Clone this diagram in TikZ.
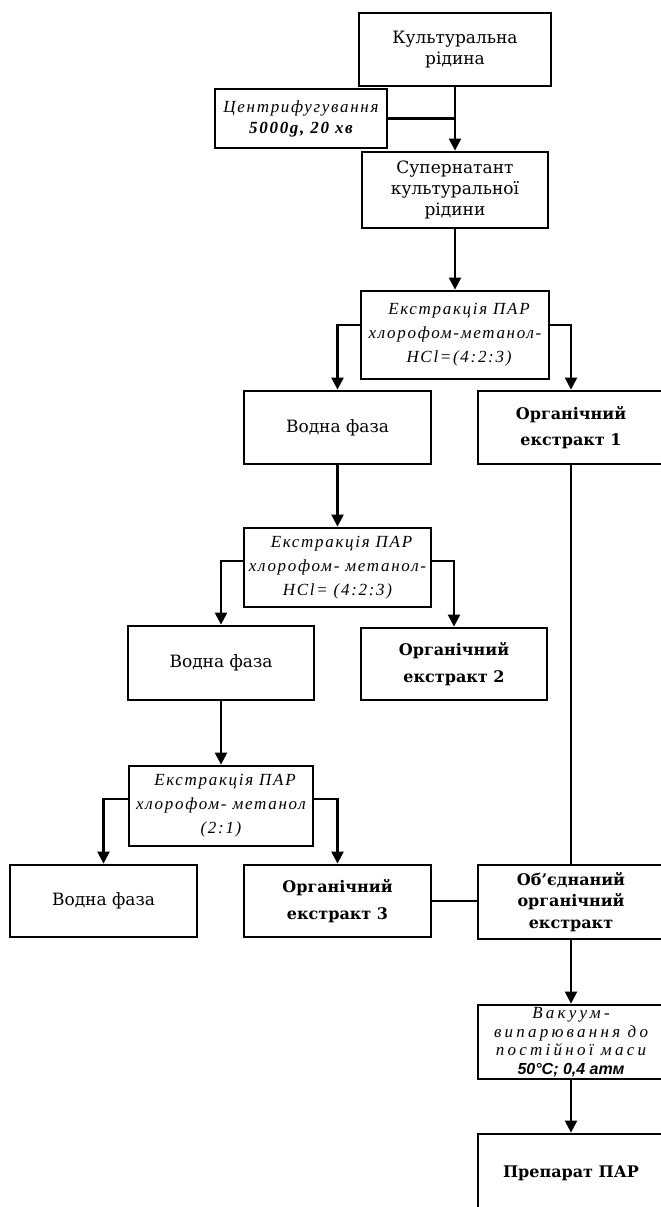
\documentclass[tikz,border=0pt]{standalone}
\usepackage{fontspec}
\setmainfont{DejaVu Serif}
\newfontfamily\itf{Liberation Serif}[LetterSpace=10]
\newfontfamily\itv{Liberation Serif}[LetterSpace=19]
\newfontfamily\sbf{Liberation Sans}
\usetikzlibrary{arrows.meta}
\begin{document}
\begin{tikzpicture}[x=1pt,y=-1pt,
  bx/.style={draw, line width=2.8pt, inner sep=1pt, align=center},
  reg/.style={font=\fontsize{17}{21}\selectfont},
  bld/.style={font=\fontsize{16}{26.5}\selectfont\bfseries},
  bldc/.style={font=\fontsize{16}{21.7}\selectfont\bfseries},
  itl/.style={font=\itf\itshape\fontsize{17}{24}\selectfont},
  ln/.style={line width=2.3pt},
  arr/.style={ln, -{Triangle[length=12pt,width=12pt]}}
]
\useasboundingbox (0,0) rectangle (661,1207);
\clip (0,0) rectangle (661,1207);
\fill[white] (0,0) rectangle (661,1207);

\node[bx, reg, minimum width=192, minimum height=73] (cult) at (455,49.5) {Культуральна\\рідина};
\node[bx, minimum width=172, minimum height=59, font=\itf\itshape\fontsize{17}{21}\selectfont] (cent) at (301,118.5) {Центрифугування\\\textbf{5000g, 20 хв}};
\node[bx, reg, minimum width=186, minimum height=76] (sup) at (455,190) {Супернатант\\культуральної\\рідини};
\node[bx, itl, minimum width=188, minimum height=88] (ext1) at (455,335) {\hspace*{8pt}Екстракція ПАР\\хлорофом-метанол-\\\hspace*{8pt}HCl=(4:2:3)};
\node[bx, reg, minimum width=187, minimum height=73] (vod1) at (337.5,427.5) {Водна фаза};
\node[bx, bld, minimum width=186, minimum height=73] (org1) at (571,427.5) {Органічний\\екстракт 1};
\node[bx, itl, minimum width=187, minimum height=79] (ext2) at (337.5,567.5) {\hspace*{8pt}Екстракція ПАР\\хлорофом- метанол-\\HCl= (4:2:3)};
\node[bx, reg, minimum width=186, minimum height=74] (vod2) at (221,663) {Водна фаза};
\node[bx, bld, minimum width=186, minimum height=72] (org2) at (454,664) {Органічний\\екстракт 2};
\node[bx, itl, minimum width=184, minimum height=80] (ext3) at (221,806) {\hspace*{8pt}Екстракція ПАР\\хлорофом- метанол\\(2:1)};
\node[bx, reg, minimum width=187, minimum height=72] (vod3) at (103.5,901) {Водна фаза};
\node[bx, bld, minimum width=187, minimum height=72] (org3) at (337.5,901) {Органічний\\екстракт 3};
\node[bx, bldc, minimum width=186, minimum height=74] (comb) at (571,902) {Об’єднаний\\органічний\\екстракт};
\node[bx, inner sep=0pt, minimum width=186, minimum height=74, font=\itv\itshape\fontsize{17}{18.5}\selectfont] (vac) at (571,1042) {Вакуум-\\випарювання до\\постійної маси\\{\sbf\bfseries\itshape\fontsize{16}{18.5}\selectfont 50°C; 0,4 атм}};
\node[bx, bld, minimum width=186, minimum height=78] (prep) at (571,1173) {Препарат ПАР};

\draw[arr] (cult) -- (sup);
\draw[ln] (cent.east) -- (cent.east -| cult.south);
\draw[arr] (sup) -- (ext1);
\draw[arr] ([yshift=10pt]ext1.west) -| (vod1.north);
\draw[arr] ([yshift=10pt]ext1.east) -| (org1.north);
\draw[arr] (vod1) -- (ext2);
\draw[arr] ([yshift=6.5pt]ext2.west) -| (vod2.north);
\draw[arr] ([yshift=6.5pt]ext2.east) -| (org2.north);
\draw[arr] (vod2) -- (ext3);
\draw[arr] ([yshift=7pt]ext3.west) -| (vod3.north);
\draw[arr] ([yshift=7pt]ext3.east) -| (org3.north);
\draw[ln] (org1) -- (comb);
\draw[ln] (org3.east) -- (org3.east -| comb.west);
\draw[arr] (comb) -- (vac);
\draw[arr] (vac) -- (prep);
\end{tikzpicture}
\end{document}
